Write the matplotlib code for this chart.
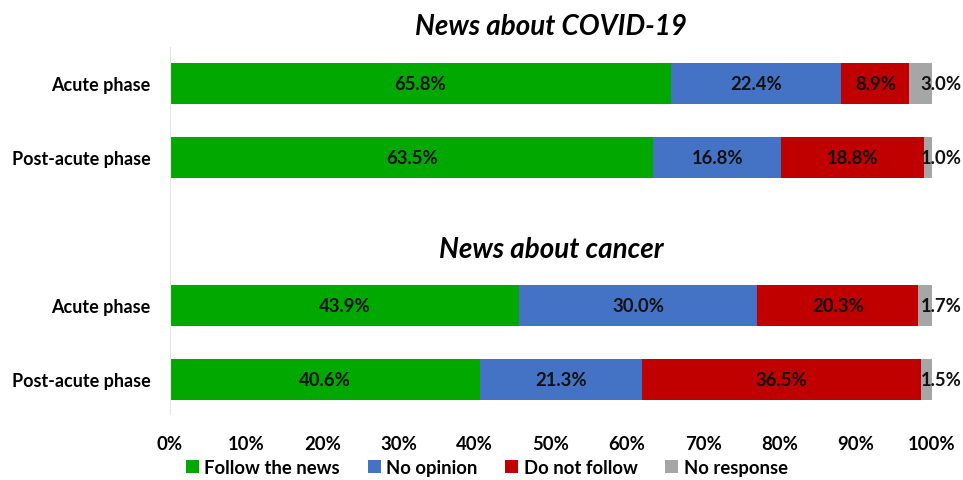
import matplotlib.pyplot as plt
import numpy as np

plt.rcParams['font.family'] = ['Lato', 'DejaVu Sans']

groups = ["News about COVID-19", "News about cancer"]
phases = ["Acute phase", "Post-acute phase", "Acute phase", "Post-acute phase"]
series = ["Follow the news", "No opinion", "Do not follow", "No response"]
follow = [65.8, 63.5, 43.9, 40.6]
no_opinion = [22.4, 16.8, 30.0, 21.3]
not_follow = [8.9, 18.8, 20.3, 36.5]
no_response = [3.0, 1.0, 1.7, 1.5]
colors = ["#00A800", "#4472C4", "#C00000", "#A6A6A6"]

values = np.array([follow, no_opinion, not_follow, no_response])
# bars are drawn as share of 100%
shares = values / values.sum(axis=0) * 100
ypos = np.array([0, 1, 3, 4])

fig = plt.figure(figsize=(9.63, 4.81), dpi=100)
ax = fig.add_axes([0.1765, 0.1372, 0.7913, 0.763])

left = np.zeros(len(ypos))
for i, name in enumerate(series):
    ax.barh(ypos, shares[i], left=left, height=0.55, color=colors[i], label=name)
    for j in range(len(ypos)):
        if i < 3:
            ax.text(left[j] + shares[i][j] / 2, ypos[j], f"{values[i][j]:.1f}%",
                    ha="center", va="center", fontsize=13.3, fontweight="bold", color="#111111")
        else:
            ax.text(101.2, ypos[j], f"{values[i][j]:.1f}%",
                    ha="center", va="center", fontsize=13.3, fontweight="bold", color="#111111")
    left += shares[i]

ax.set_xlim(0, 100)
ax.set_ylim(4.47, -0.49)
ax.set_yticks(ypos)
ax.set_yticklabels(phases, fontsize=13, fontweight="bold")
ax.set_xticks(np.arange(0, 101, 10))
ax.set_xticklabels([f"{t}%" for t in range(0, 101, 10)], fontsize=13.3, fontweight="bold")
ax.tick_params(axis="y", length=0, pad=14)
ax.tick_params(axis="x", length=0, pad=15)
for s in ["top", "right", "bottom"]:
    ax.spines[s].set_visible(False)
ax.spines["left"].set_color("#E6E6E6")

ax.text(50, -0.78, groups[0], ha="center", va="center", fontsize=20,
        fontweight="bold", style="italic")
ax.text(50, 2.24, groups[1], ha="center", va="center", fontsize=20,
        fontweight="bold", style="italic")

ax.legend(loc="center", bbox_to_anchor=(0.416, -0.145), ncol=4, frameon=False,
          handlelength=0.7, handleheight=0.7, handletextpad=0.3, columnspacing=1.5,
          prop={"size": 13.3, "weight": "bold"})

fig.savefig("out.png", dpi=100)
